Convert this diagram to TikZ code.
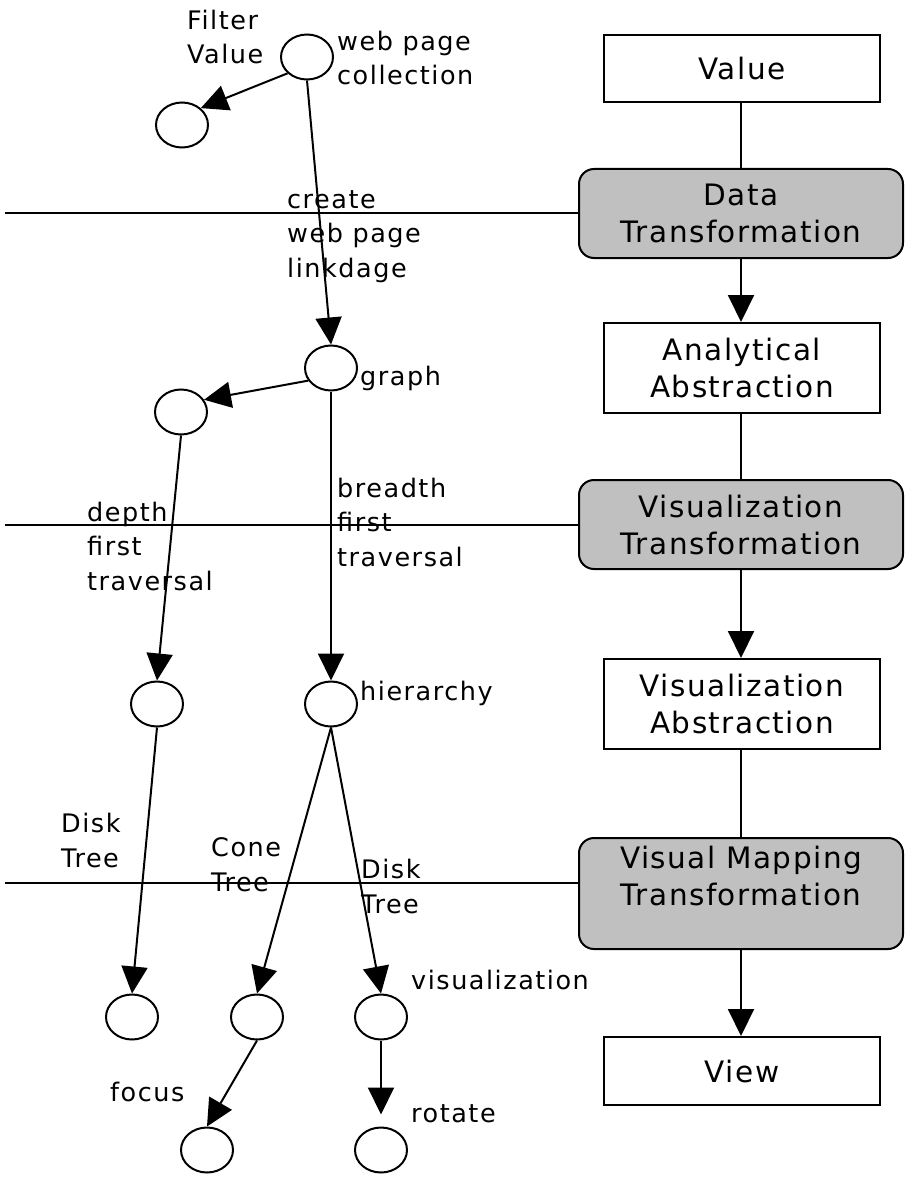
\documentclass[tikz,border=0pt]{standalone}
\usepackage{fontspec}
\setmainfont{DejaVu Sans}
\newfontfamily\boxff{DejaVu Sans}[LetterSpace=5]
\newfontfamily\lblff{DejaVu Sans}[LetterSpace=6]
\usetikzlibrary{shapes.geometric,arrows.meta}
\definecolor{boxgray}{RGB}{192,192,192}
\begin{document}
\begin{tikzpicture}[x=1pt,y=-1pt,
 every node/.style={inner sep=0pt},
 lw/.style={line width=2pt},
 circ/.style={ellipse,draw,lw,minimum width=52pt,minimum height=45pt},
 boxfont/.style={font=\boxff\fontsize{29.5}{37}\selectfont,align=center},
 plainbox/.style={draw,lw,minimum width=276pt,boxfont},
 graybox/.style={draw,lw,fill=boxgray,rounded corners=15pt,minimum width=324pt,minimum height=89pt,boxfont},
 lbl/.style={font=\lblff\fontsize{25.5}{34.5}\selectfont,align=left,anchor=base west},
 arr/.style={lw,-{Triangle[length=27pt,width=26pt]}},
 con/.style={lw}]
\useasboundingbox (0,0) rectangle (912,1182);
% right column
\node[plainbox,minimum height=67pt] (val) at (742,68.5) {Value};
\node[graybox] (dt) at (741,213.5) {Data\\Transformation};
\node[plainbox,minimum height=90pt] (aa) at (742,368) {Analytical\\Abstraction};
\node[graybox] (vt) at (741,524.5) {Visualization\\Transformation};
\node[plainbox,minimum height=90pt] (va) at (742,704) {Visualization\\Abstraction};
\node[graybox,minimum height=111pt] (vmt) at (741,893.5) {};
\node[boxfont] (vmtt) at (741,876) {Visual Mapping\\Transformation};
\node[plainbox,minimum height=68pt] (view) at (742,1071) {View};
\draw[con] (val.south -| dt.north) -- (dt.north);
\draw[arr] (dt.south) -- (dt.south |- aa.north);
\draw[con] (aa.south -| vt.north) -- (vt.north);
\draw[arr] (vt.south) -- (vt.south |- va.north);
\draw[con] (va.south -| vmt.north) -- (vmt.north);
\draw[arr] (vmt.south) -- (vmt.south |- view.north);
% horizontal lines
\coordinate (h1) at (5,213.5);
\coordinate (h2) at (5,524.5);
\coordinate (h3) at (5,883);
\draw[con] (h1) -- (h1 -| dt.west);
\draw[con] (h2) -- (h2 -| vt.west);
\draw[con] (h3) -- (h3 -| vmt.west);
% left graph
\node[circ] (wpc) at (307,57) {};
\node[circ] (flt) at (182,125) {};
\node[circ] (gr) at (331,368) {};
\node[circ] (gl) at (181,412) {};
\node[circ] (dn) at (157,704) {};
\node[circ] (hi) at (331,704) {};
\node[circ] (b1) at (132,1017) {};
\node[circ] (b2) at (257,1017) {};
\node[circ] (b3) at (381,1017) {};
\node[circ] (fo) at (207,1150) {};
\node[circ] (ro) at (381,1150) {};
\draw[arr] (wpc.220) -- (flt.42);
\draw[arr] (wpc.south) -- (gr.north);
\draw[arr] (gr.209) -- (gl.28);
\draw[arr] (gl.south) -- (dn.north);
\draw[arr] (gr.south) -- (hi.north);
\draw[arr] (dn.south) -- (b1.north);
\draw[arr] (hi.south) -- (b2.north);
\draw[arr] (hi.south) -- (b3.north);
\draw[arr] (b2.south) -- (fo.north);
\draw[arr,shorten >=12pt] (b3.south) -- (ro.north);
% labels (anchor = baseline of last line)
\node[lbl] (t1) at (187,64) {Filter\\Value};
\node[lbl] (t2) at (337,85) {web page\\collection};
\node[lbl] (t3) at (287,277) {create\\web page\\linkdage};
\node[lbl] (t4) at (360,385) {graph};
\node[lbl] (t5) at (87,590) {depth\\first\\traversal};
\node[lbl] (t6) at (337,566) {breadth\\first\\traversal};
\node[lbl] (t7) at (360,700) {hierarchy};
\node[lbl] (t8) at (61,867) {Disk\\Tree};
\node[lbl] (t9) at (211,891) {Cone\\Tree};
\node[lbl] (t10) at (361,913) {Disk\\Tree};
\node[lbl] (t11) at (411,989) {visualization};
\node[lbl] (t12) at (110,1101) {focus};
\node[lbl] (t13) at (411,1122) {rotate};
\end{tikzpicture}
\end{document}
